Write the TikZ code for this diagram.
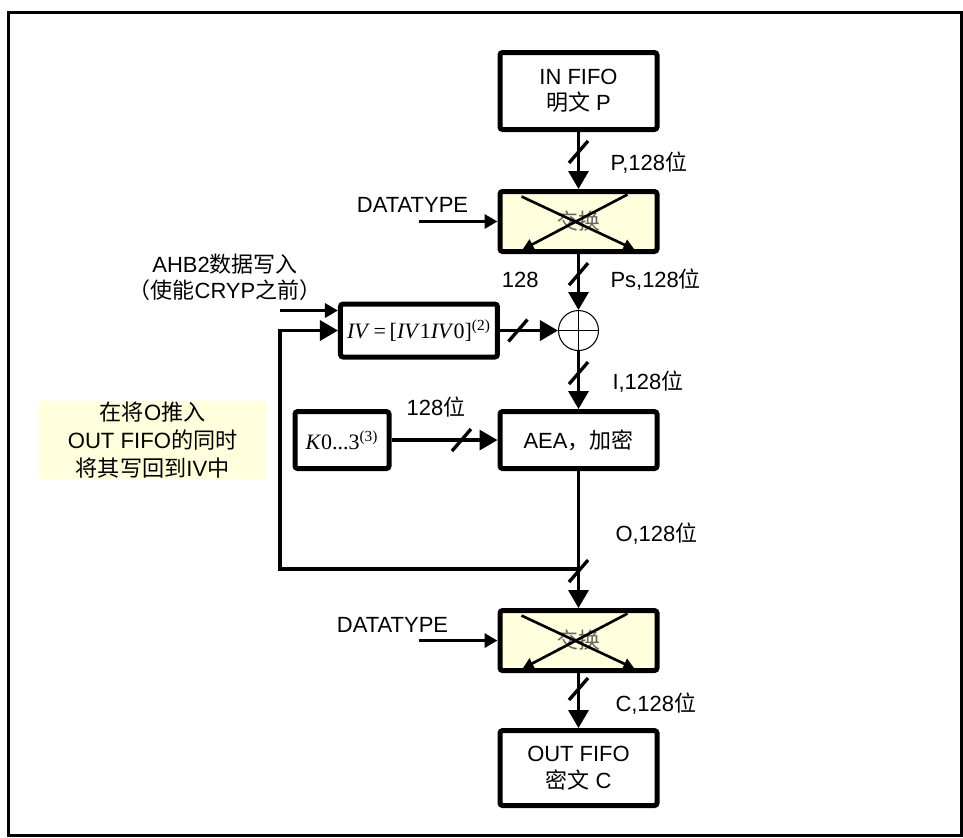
\documentclass[tikz,border=0pt]{standalone}
\usepackage{fontspec}
\setmainfont{Liberation Sans}
\newfontfamily\zhfont{Noto Sans CJK SC}
\newfontfamily\tmsfont{Liberation Serif}
\newcommand{\zh}[1]{{\zhfont #1}}
\usepackage{tikz}
\usetikzlibrary{arrows.meta,positioning,calc}
\definecolor{swapyellow}{RGB}{255,255,221}
\definecolor{noteyellow}{RGB}{255,255,221}
\newcommand{\busmark}[1]{\draw[busline] (#1) ++(-0.19,-0.22) -- ++(0.38,0.44);}

\begin{document}
\begin{tikzpicture}[node distance=1.16cm,
        font=\fontsize{12.5}{15}\selectfont,
        block/.style={rectangle, draw, line width=0.1cm, rounded corners=1.5pt, minimum width=3.14cm, align=center},
        swapblock/.style={block, fill=swapyellow, minimum height=1.2cm, text=black!60},
        xorsym/.style={circle, draw, line width=0.6pt, minimum size=0.8cm, inner sep=0pt},
        notebox/.style={fill=noteyellow, minimum width=4.54cm, minimum height=1.5cm, align=center, inner sep=0pt, font=\fontsize{12.6}{16.2}\selectfont},
        lbl/.style={inner sep=0pt, outer sep=0pt},
        arrow/.style={-{Triangle[length=0.36cm, width=0.4cm]}, line width=1.9pt},
        smallarrow/.style={-{Triangle[length=0.26cm, width=0.28cm]}, line width=1.9pt},
        swaparrow/.style={-{Triangle[length=0.22cm, width=0.22cm]}, line width=1.5pt},
        busline/.style={line width=1.9pt}]

        % Frame
        \useasboundingbox (0,0) rectangle (19.26,-16.74);
        \draw[line width=0.06cm] (0.16,-0.24) rectangle (19.23,-16.71);

        % Data Path
        \node[block, minimum height=1.54cm] (infifo) at (11.57,-1.82) {IN FIFO\\\zh{明文} P};
        \node[swapblock, below=1.14cm of infifo] (swap1) {\zh{交换}};
        \node[xorsym, below=1.12cm of swap1] (xor) {};
        \node[block, minimum height=1.06cm, left=1.16cm of xor] (iv) {\tmsfont\textit{IV}\,=\,[\textit{IV}1\textit{IV}0]\textsuperscript{(2)}};
        \node[block, minimum height=1.14cm, below=1.16cm of xor] (aea) {AEA\zh{，加密}};
        \node[block, minimum width=1.88cm, minimum height=1.14cm, left=2.12cm of aea] (key) {\tmsfont\textit{K}0...3\textsuperscript{(3)}};
        \node[swapblock, below=2.74cm of aea] (swap2) {\zh{交换}};
        \node[block, minimum height=1.5cm, below=1.1cm of swap2] (outfifo) {OUT FIFO\\\zh{密文} C};

        % Note
        \node[notebox, left=0.52cm of key] (note) {\zh{在将}O\zh{推入}\\OUT FIFO\zh{的同时}\\\zh{将其写回到}IV\zh{中}};

        % XOR cross and swap crosses
        \draw[line width=0.6pt] (xor.north) -- (xor.south) (xor.west) -- (xor.east);
        \foreach \s in {swap1,swap2} {
            \draw[swaparrow] ([shift={(-1.14,0.5)}]\s.center) -- ([shift={(1.12,-0.56)}]\s.center);
            \draw[swaparrow] ([shift={(0.98,0.54)}]\s.center) -- ([shift={(-1.12,-0.56)}]\s.center);
        }

        % Side inputs
        \coordinate[left=1.58cm of swap1.west] (dt1);
        \coordinate[left=1.58cm of swap2.west] (dt2);
        \coordinate[left=1.16cm of iv.west] (fbleft);
        \coordinate (ahb) at ([yshift=0.4cm]fbleft);
        \node[lbl, anchor=south] at ([xshift=-0.12cm, yshift=0.18cm]dt1) {DATATYPE};
        \node[lbl, anchor=south] at ([xshift=-0.52cm, yshift=0.16cm]dt2) {DATATYPE};
        \node[lbl, anchor=south, align=center] at ([xshift=-1.1cm, yshift=0.2cm]ahb) {AHB2\zh{数据写入}\\\zh{（使能}CRYP\zh{之前）}};

        % Connections
        \draw[arrow] (infifo) -- node[lbl, pos=0.53, right=0.64cm] {P,128\zh{位}} (swap1);
        \draw[arrow] (swap1) -- node[lbl, pos=0.46, right=0.64cm] {Ps,128\zh{位}} node[lbl, pos=0.46, left=0.8cm] {128} (xor);
        \draw[arrow] (iv) -- (xor);
        \draw[arrow] (xor) -- node[lbl, pos=0.52, right=0.68cm] {I,128\zh{位}} (aea);
        \draw[arrow] (key) -- node[lbl, pos=0.42, above=0.46cm] {128\zh{位}} (aea);
        \draw[arrow] (aea) -- node[lbl, pos=0.46, right=0.74cm] {O,128\zh{位}} (swap2);
        \draw[arrow] (swap2) -- node[lbl, pos=0.56, right=0.74cm] {C,128\zh{位}} (outfifo);
        \draw[smallarrow] (dt1) -- (swap1);
        \draw[smallarrow] (dt2) -- (swap2);
        \draw[smallarrow] (ahb) -- ([yshift=0.4cm]iv.west);

        % Write back to IV
        \coordinate (ojoin) at ($(aea.south)!0.715!(swap2.north)$);
        \draw[arrow] (ojoin) -| (fbleft) -- (iv.west);

        % Bus widths
        \busmark{$(infifo.south)!0.35!(swap1.north)$}
        \busmark{$(swap1.south)!0.36!(xor.north)$}
        \busmark{$(iv.east)!0.31!(xor.west)$}
        \busmark{$(xor.south)!0.38!(aea.north)$}
        \busmark{$(key.east)!0.66!(aea.west)$}
        \busmark{$(aea.south)!0.73!(swap2.north)$}
        \busmark{$(swap2.south)!0.29!(outfifo.north)$}
    \end{tikzpicture}
\end{document}
